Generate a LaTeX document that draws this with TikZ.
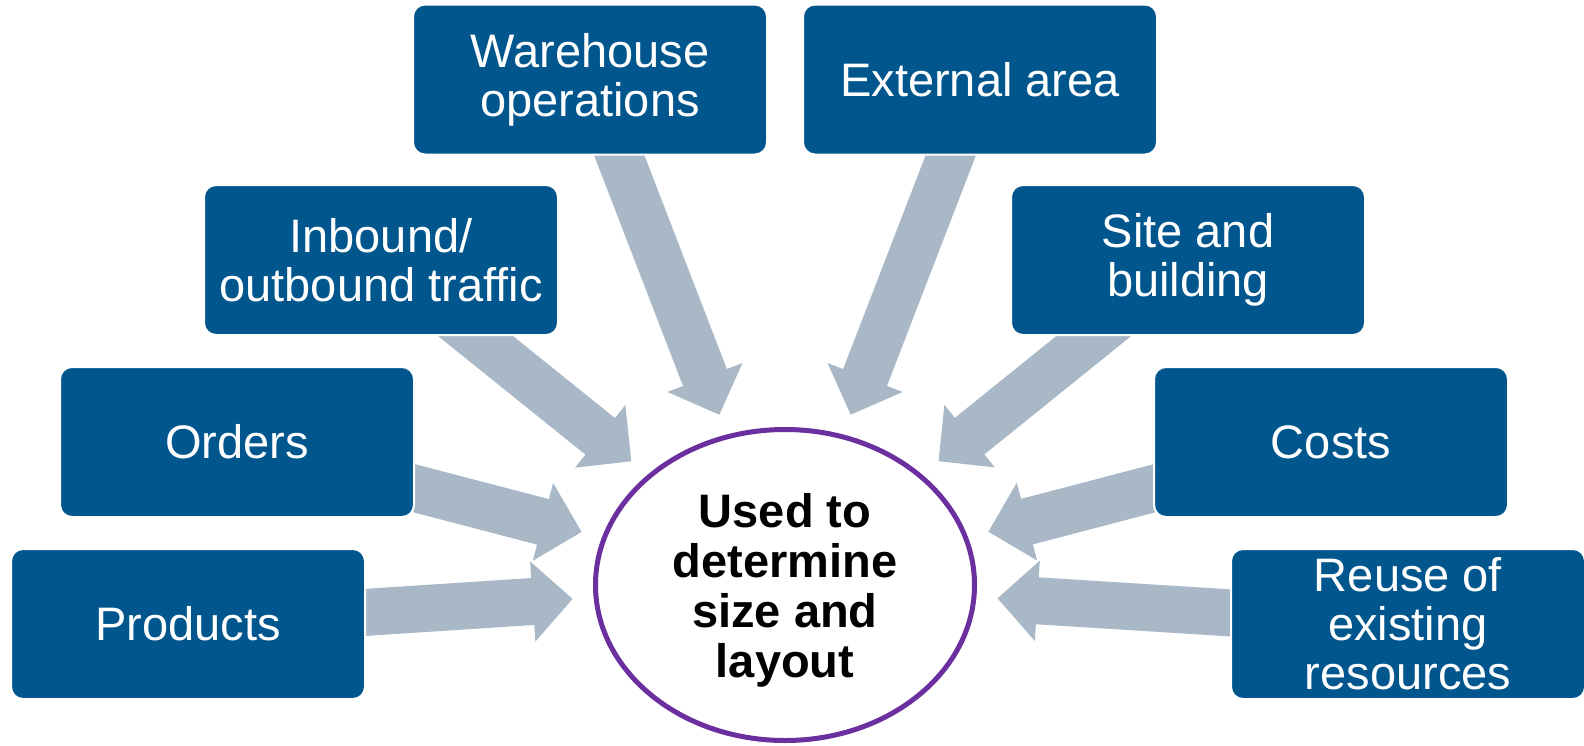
\documentclass[tikz,border=0pt]{standalone}
\usepackage{fontspec}
\setmainfont{Liberation Sans}
\usetikzlibrary{arrows.meta,shapes.geometric,backgrounds}
\definecolor{boxblue}{HTML}{01568D}
\definecolor{arrowgrey}{HTML}{A9B8C6}
\definecolor{ringpurple}{HTML}{6B2FA0}
\begin{document}
\begin{tikzpicture}[x=1pt,y=-1pt,
  factor/.style={rectangle, rounded corners=12pt, fill=boxblue, draw=white, line width=2pt,
    minimum width=354pt, minimum height=150pt, text=white, align=center, inner sep=0pt,
    font=\fontsize{47}{49}\selectfont},
  hub/.style={ellipse, draw=ringpurple, line width=5pt, fill=white, minimum width=379pt,
    minimum height=311pt, inner sep=0pt, align=center, text depth=0pt,
    font=\fontsize{47}{50}\selectfont\bfseries},
  feed/.style={draw=arrowgrey, line width=47pt, -{Triangle[width=78pt,length=40pt]}, shorten >=21pt}]
\useasboundingbox (0,0) rectangle (1584,745);
\node[hub] (hub) at (785,585) {Used to\\determine\\size and\\layout};
\node[factor] (ops) at (590,79.5) {Warehouse\\operations};
\node[factor] (ext) at (980,79.5) {External area};
\node[factor] (traffic) at (381,260) {Inbound/\\outbound traffic};
\node[factor] (site) at (1188,260) {Site and\\building};
\node[factor] (orders) at (237,442) {Orders};
\node[factor] (costs) at (1331,442) {Costs};
\node[factor] (products) at (188,624) {Products};
\node[factor] (reuse) at (1408,624) {Reuse of\\existing\\resources};
\begin{pgfonlayer}{background}
\foreach \src in {ops,ext,traffic,site,orders,costs,products,reuse}
  \draw[feed] (\src.center) -- (hub);
\end{pgfonlayer}
\end{tikzpicture}
\end{document}
